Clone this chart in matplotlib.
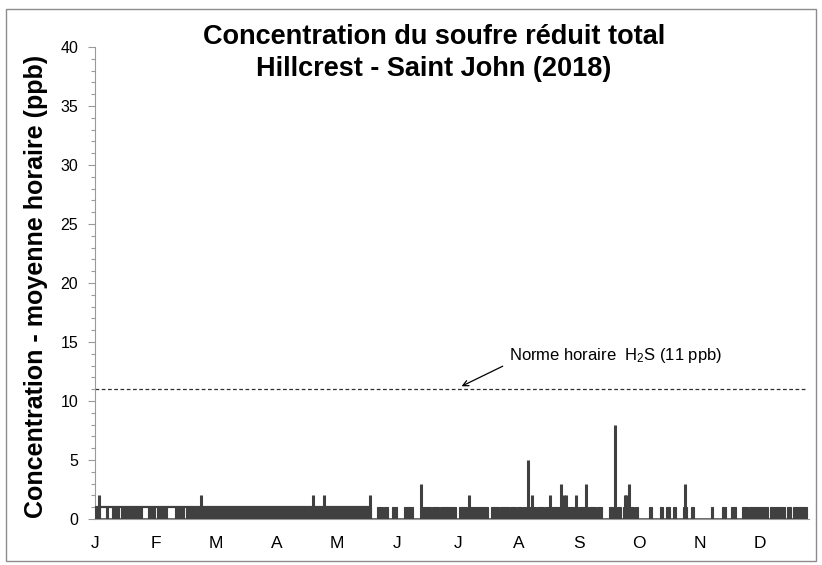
import matplotlib
matplotlib.use("Agg")
import matplotlib.pyplot as plt
from matplotlib.patches import Rectangle

plt.rcParams['font.family'] = ['Liberation Sans', 'DejaVu Sans']
plt.rcParams['mathtext.fontset'] = 'custom'
plt.rcParams['mathtext.rm'] = 'Liberation Sans'
plt.rcParams['mathtext.it'] = 'Liberation Sans:italic'

# ---- data (day of year 2018) ----
month_labels = ["J", "F", "M", "A", "M", "J", "J", "A", "S", "O", "N", "D"]
label_step_days = 31  # category-axis label interval (744 hours)

# periods where hourly values switch between 0 and 1 ppb
block_start = [0.0, 5.6, 8.7, 13.1, 27.1, 31.7, 41.0, 46.4, 73.5, 96.0, 112.4, 125.7, 131.9, 137.5,
               144.4, 147.9, 152.0, 158.2, 167.4, 172.8, 176.9, 186.8, 192.0,
               203.2, 207.6, 212.7, 216.3, 219.4, 222.7, 226.6, 230.7, 233.9,
               247.8, 253.4, 257.5, 263.6, 267.7, 270.8, 276.9,
               284.1, 289.7, 292.8, 296.4, 301.5, 305.6, 315.8, 321.5,
               326.1, 331.7, 335.1, 345.8, 354.5, 357.6]
block_end = [2.6, 6.7, 12.5, 24.1, 30.7, 36.9, 45.8, 72.9, 95.4, 111.8, 125.1, 131.3, 136.9, 141.3,
             147.4, 150.0, 154.6, 162.8, 172.2, 176.3, 185.3, 190.9, 201.2,
             207.0, 212.1, 215.7, 218.8, 221.1, 226.0, 230.1, 232.9, 245.7,
             252.9, 257.0, 260.1, 265.7, 269.8, 276.4, 278.5,
             285.6, 291.3, 294.9, 297.9, 303.6, 307.1, 316.9, 323.5,
             328.6, 334.5, 345.2, 353.9, 357.0, 365.0]

# periods with a constant 1 ppb
one_start = [0.0]
one_end = [141.3]

# peaks above 1 ppb
spike_day = [1.9, 54.3, 111.6, 117.6, 141.0, 166.9, 191.5, 222.2, 224.2, 233.4,
             239.0, 240.4, 241.4, 246.6, 251.7, 266.7, 271.5, 272.3, 273.9, 302.4]
spike_ppb = [2, 2, 2, 2, 2, 3, 2, 5, 2, 2,
             3, 2, 2, 2, 3, 8, 2, 2, 3, 3]

norme_h2s = 11
year_days = 365

# ---- figure ----
W, H = 822, 565
fig = plt.figure(figsize=(W / 100, H / 100), dpi=100)
ax = fig.add_axes([95 / W, (H - 519) / H, (809 - 95) / W, (519 - 47) / H])

dark = '#404040'
widths = [e - s for s, e in zip(block_start, block_end)]
ax.bar(block_start, [1] * len(block_start), width=widths, align='edge',
       color=dark, edgecolor=dark, linewidth=0.8, zorder=3)
ax.hlines([1] * len(one_start), one_start, one_end, color=dark, linewidth=1.6, zorder=3)
ax.hlines(0, 0, year_days, color=dark, linewidth=1.8, zorder=3)
ax.vlines(spike_day, 0, spike_ppb, color=dark, linewidth=2.2, zorder=4)

# hourly standard
ax.hlines(norme_h2s, 0, year_days, color='#303030', linewidth=0.9,
          linestyles=(0, (3, 2)), zorder=2)
ax.annotate('', xy=(187.9, norme_h2s + 0.25), xytext=(209.0, 12.95),
            arrowprops=dict(arrowstyle='->', color='black', lw=0.9, shrinkA=0, shrinkB=0))
ax.text(212.4, 13.85, 'Norme horaire  H$_2$S (11 ppb)', fontsize=12,
        ha='left', va='center', color='black')

ax.set_xlim(0, year_days + 1)
ax.set_ylim(0, 40)
ax.set_xticks([i * label_step_days for i in range(len(month_labels))])
ax.set_xticklabels(month_labels, fontsize=12.5)
ax.tick_params(axis='x', length=0, pad=12)
ax.set_yticks(range(0, 41, 5))
ax.set_yticks(range(0, 41, 1), minor=True)
ax.tick_params(axis='y', which='major', length=5, width=0.8, color='#9a9a9a',
               labelsize=11.5, pad=7)
ax.tick_params(axis='y', which='minor', length=3, width=0.8, color='#9a9a9a')
for s in ['top', 'right']:
    ax.spines[s].set_visible(False)
ax.spines['left'].set_color('#9a9a9a')
ax.spines['bottom'].set_color('#9a9a9a')

fig.text(36 / W, (H - 286) / H, 'Concentration - moyenne horaire (ppb)',
         rotation=90, ha='center', va='center', fontsize=18, fontweight='bold')
fig.text(434 / W, (H - 53) / H,
         'Concentration du soufre réduit total\nHillcrest - Saint John (2018)',
         ha='center', va='center', fontsize=19.5, fontweight='bold', linespacing=1.3)

fig.patches.append(Rectangle((6 / W, 4 / H), 810 / W, 552 / H, transform=fig.transFigure,
                             fill=False, edgecolor='#8c8c8c', linewidth=1.0))

fig.savefig('out.png', dpi=100)
